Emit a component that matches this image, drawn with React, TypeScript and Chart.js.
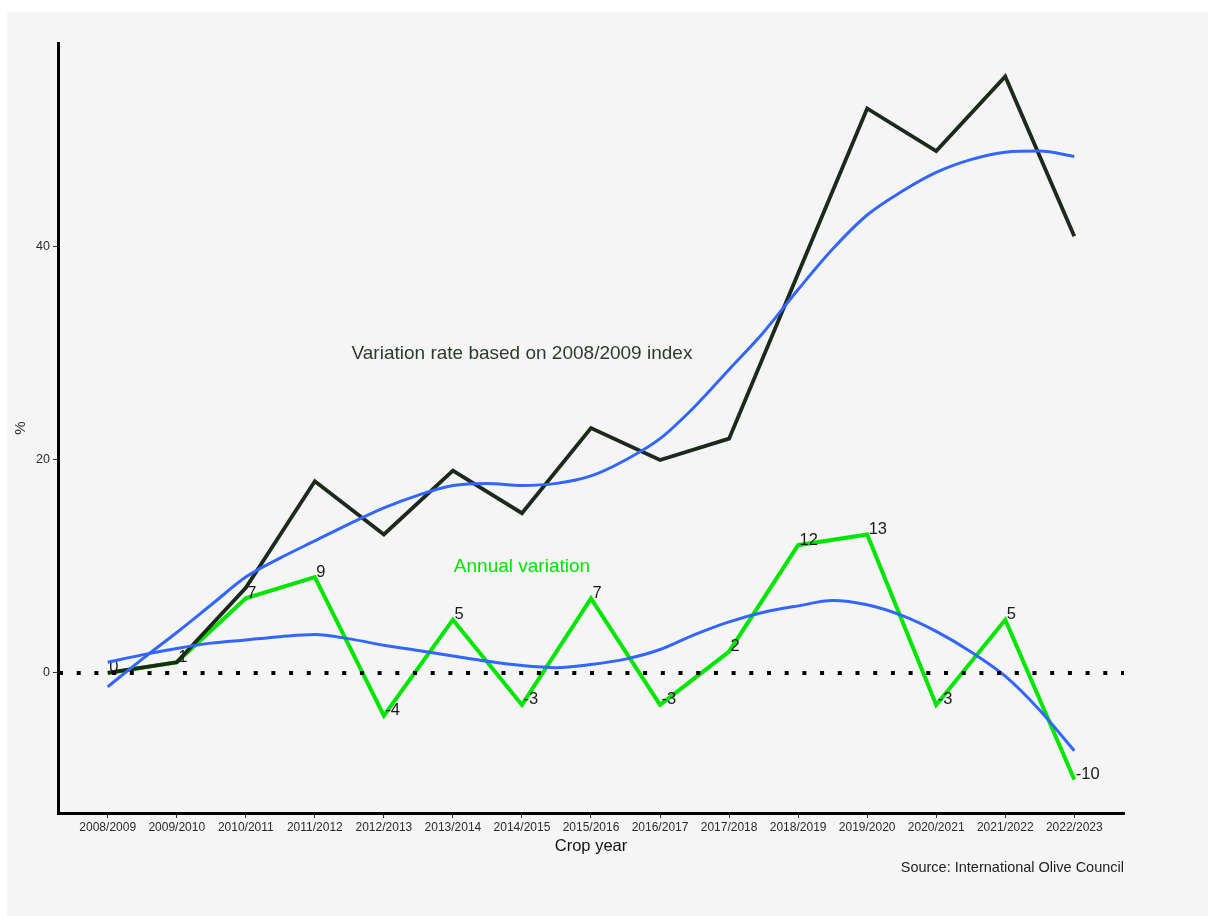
import { useEffect, useRef } from "react";
import { Chart, registerables } from "chart.js";

Chart.register(...registerables);

const categories = [
  "2008/2009", "2009/2010", "2010/2011", "2011/2012", "2012/2013",
  "2013/2014", "2014/2015", "2015/2016", "2016/2017", "2017/2018",
  "2018/2019", "2019/2020", "2020/2021", "2021/2022", "2022/2023",
];
const indexVariation = [0, 1, 8, 18, 13, 19, 15, 23, 20, 22, 37.5, 53, 49, 56, 41];
const annualVariation = [0, 1, 7, 9, -4, 5, -3, 7, -3, 2, 12, 13, -3, 5, -10];
// smooth trend lines, read at every half crop-year
const trendStep = 0.5;
const indexTrend = [
  -1.3, 1.3, 3.8, 6.4, 9.0, 10.8, 12.4, 14.0, 15.5, 16.7, 17.6, 17.8, 17.6, 17.8, 18.5,
  20.0, 22.0, 25.0, 28.5, 32.0, 36.0, 39.8, 43.0, 45.2, 47.0, 48.2, 48.9, 49.0, 48.5,
];
const annualTrend = [
  1.0, 1.7, 2.3, 2.8, 3.1, 3.4, 3.6, 3.2, 2.6, 2.1, 1.6, 1.1, 0.7, 0.5, 0.8,
  1.3, 2.2, 3.6, 4.8, 5.7, 6.3, 6.8, 6.4, 5.4, 3.9, 2.0, -0.3, -3.5, -7.3,
];
const yTicks = [0, 20, 40];
const yMin = -13.15;
const yMax = 59.15;
const xMin = -0.72;
const xMax = 14.72;
const indexNote = "Variation rate based on 2008/2009 index";
const annualNote = "Annual variation";
const indexNotePos = { x: 6, y: 30 };
const annualNotePos = { x: 6, y: 10 };
const sourceText = "Source: International Olive Council";

const FONT = '"Liberation Sans", Arial, Helvetica, sans-serif';
const BLACK_LINE = "#1c2a1c";
const GREEN = "#00e600";
const BLUE = "#3366ff";

const decorPlugin = {
  id: "decor",
  beforeDatasetDraw(chart: any, args: any) {
    if (args.index !== 2) return;
    const ctx = chart.ctx;
    const meta = chart.getDatasetMeta(3);
    ctx.save();
    ctx.font = `16.5px ${FONT}`;
    ctx.fillStyle = "#1a1a1a";
    ctx.textAlign = "left";
    ctx.textBaseline = "middle";
    meta.data.forEach((pt: any, i: number) => {
      ctx.fillText(String(annualVariation[i]), pt.x + 1.5, pt.y - 5);
    });
    ctx.restore();
  },
  afterDatasetsDraw(chart: any) {
    const { ctx, chartArea, scales } = chart;
    const y0 = scales.y.getPixelForValue(0);
    ctx.save();
    ctx.strokeStyle = "#000";
    ctx.lineWidth = 4;
    ctx.lineCap = "butt";
    ctx.setLineDash([4, 13.7]);
    ctx.beginPath();
    ctx.moveTo(chartArea.left + 1, y0);
    ctx.lineTo(chartArea.right, y0);
    ctx.stroke();
    ctx.setLineDash([]);

    ctx.textAlign = "center";
    ctx.textBaseline = "middle";
    ctx.font = `19px ${FONT}`;
    ctx.fillStyle = "#2e3a2e";
    ctx.fillText(indexNote, scales.x.getPixelForValue(indexNotePos.x), scales.y.getPixelForValue(indexNotePos.y));
    ctx.fillStyle = GREEN;
    ctx.fillText(annualNote, scales.x.getPixelForValue(annualNotePos.x), scales.y.getPixelForValue(annualNotePos.y));

    ctx.font = `14.5px ${FONT}`;
    ctx.fillStyle = "#222";
    ctx.textAlign = "right";
    ctx.fillText(sourceText, chartArea.right, chartArea.bottom + 55);
    ctx.restore();
  },
};

export default function App() {
  const canvasRef = useRef<HTMLCanvasElement | null>(null);

  useEffect(() => {
    const canvas = canvasRef.current;
    if (!canvas) return;
    const trendPoints = (arr: number[]) => arr.map((v, i) => ({ x: i * trendStep, y: v }));
    const seriesPoints = (arr: number[]) => arr.map((v, i) => ({ x: i, y: v }));

    const chart = new Chart(canvas, {
      type: "line",
      data: {
        datasets: [
          {
            label: "Index trend",
            data: trendPoints(indexTrend),
            borderColor: BLUE,
            borderWidth: 3,
            cubicInterpolationMode: "monotone",
            pointRadius: 0,
          },
          {
            label: "Annual trend",
            data: trendPoints(annualTrend),
            borderColor: BLUE,
            borderWidth: 3,
            cubicInterpolationMode: "monotone",
            pointRadius: 0,
          },
          {
            label: "Variation rate based on 2008/2009 index",
            data: seriesPoints(indexVariation),
            borderColor: BLACK_LINE,
            borderWidth: 3.8,
            tension: 0,
            pointRadius: 0,
          },
          {
            label: "Annual variation",
            data: seriesPoints(annualVariation),
            borderColor: GREEN,
            borderWidth: 4,
            tension: 0,
            pointRadius: 0,
          },
        ],
      },
      options: {
        animation: false,
        responsive: false,
        layout: { padding: { top: 31, right: 84, left: 0, bottom: 0 } },
        plugins: {
          legend: { display: false },
          tooltip: { enabled: false },
        },
        scales: {
          x: {
            type: "linear",
            min: xMin,
            max: xMax,
            afterFit: (s: any) => {
              s.height = 103;
            },
            afterBuildTicks: (s: any) => {
              s.ticks = categories.map((_, i) => ({ value: i }));
            },
            ticks: {
              callback: (v: any) => categories[Math.round(Number(v))] ?? "",
              font: { family: FONT, size: 12 },
              color: "#2a2a2a",
              padding: 2,
              maxRotation: 0,
              autoSkip: false,
            },
            grid: {
              drawOnChartArea: false,
              drawTicks: true,
              tickLength: 5,
              tickColor: "#333",
              tickWidth: 1,
            },
            border: { display: true, color: "#000", width: 3 },
            title: {
              display: true,
              text: "Crop year",
              font: { family: FONT, size: 16.5 },
              color: "#111",
              padding: { top: 0, bottom: 60 },
            },
          },
          y: {
            type: "linear",
            min: yMin,
            max: yMax,
            afterFit: (s: any) => {
              s.width = 51;
            },
            afterBuildTicks: (s: any) => {
              s.ticks = yTicks.map((v) => ({ value: v }));
            },
            ticks: {
              font: { family: FONT, size: 12.5 },
              color: "#2a2a2a",
              padding: 3,
            },
            grid: {
              drawOnChartArea: false,
              drawTicks: true,
              tickLength: 5,
              tickColor: "#333",
              tickWidth: 1,
            },
            border: { display: true, color: "#000", width: 3 },
            title: {
              display: true,
              text: "%",
              font: { family: FONT, size: 15 },
              color: "#2a2a2a",
              padding: { top: 5, bottom: 0 },
            },
          },
        },
      },
      plugins: [decorPlugin],
    } as any);

    return () => chart.destroy();
  }, []);

  return (
    <div
      style={{
        position: "absolute",
        left: 7,
        top: 12,
        width: 1201,
        height: 904,
        background: "#f5f5f5",
      }}
    >
      <canvas ref={canvasRef} width={1201} height={904} style={{ width: 1201, height: 904, display: "block" }} />
    </div>
  );
}
